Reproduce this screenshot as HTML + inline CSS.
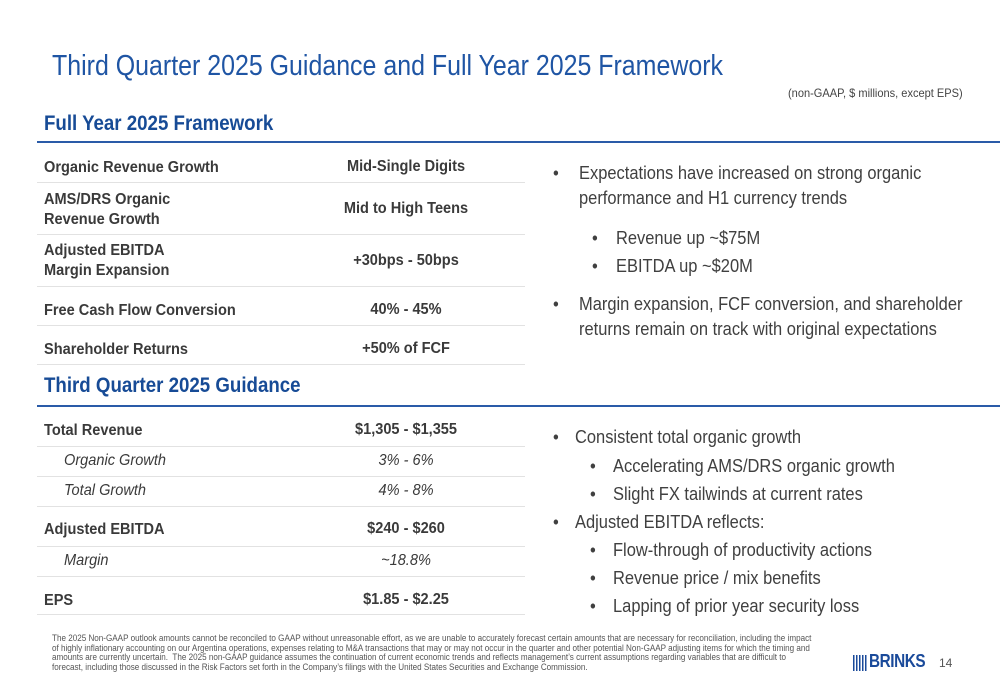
<!DOCTYPE html>
<html><head><meta charset="utf-8"><style>
body{margin:0;width:1000px;height:685px;background:#fff;position:relative;overflow:hidden;font-family:"Liberation Sans",sans-serif;color:#3a3a3a}
.a{position:absolute;white-space:nowrap;transform-origin:left top}
.title{left:52px;top:50px;font-size:29px;color:#1f55a4;transform:scaleX(0.86)}
.h{left:44px;font-size:21px;font-weight:bold;color:#174b96;transform:scaleX(0.89)}
.bl{position:absolute;left:37px;right:0;height:2px;background:#2a5ba8}
.sep{position:absolute;left:37px;width:488px;height:1px;background:#e2e2e2}
.l{left:44px;font-size:16px;font-weight:bold;line-height:20px;transform:scaleX(0.91)}
.v{left:310px;width:192px;text-align:center;font-size:16px;font-weight:bold;transform:scaleX(0.91);transform-origin:center top}
.i{left:64px;font-size:16px;font-style:italic;transform:scaleX(0.91)}
.vi{left:310px;width:192px;text-align:center;font-size:16px;font-style:italic;transform:scaleX(0.91);transform-origin:center top}
.b{font-size:18.5px;color:#404040;line-height:25px;transform:scaleX(0.89)}
.foot{left:52px;top:634px;font-size:8.8px;line-height:9.6px;color:#555;white-space:normal;width:826px;transform:scaleX(0.92)}
</style></head><body>
<div class="a title">Third Quarter 2025 Guidance and Full Year 2025 Framework</div>
<div class="a" style="left:788px;top:86px;font-size:12px;color:#444;transform:scaleX(0.92)">(non-GAAP, $ millions, except EPS)</div>

<div class="a h" style="top:112px">Full Year 2025 Framework</div>
<div class="bl" style="top:141px"></div>
<div class="a l" style="top:158px">Organic Revenue Growth</div>
<div class="a v" style="top:158px">Mid-Single Digits</div>
<div class="sep" style="top:182px"></div>
<div class="a l" style="top:190px">AMS/DRS Organic<br>Revenue Growth</div>
<div class="a v" style="top:200px">Mid to High Teens</div>
<div class="sep" style="top:234px"></div>
<div class="a l" style="top:241px">Adjusted EBITDA<br>Margin Expansion</div>
<div class="a v" style="top:252px">+30bps - 50bps</div>
<div class="sep" style="top:286px"></div>
<div class="a l" style="top:301px">Free Cash Flow Conversion</div>
<div class="a v" style="top:301px">40% - 45%</div>
<div class="sep" style="top:325px"></div>
<div class="a l" style="top:340px">Shareholder Returns</div>
<div class="a v" style="top:340px">+50% of FCF</div>
<div class="sep" style="top:364px"></div>

<div class="a h" style="top:374px">Third Quarter 2025 Guidance</div>
<div class="bl" style="top:405px"></div>
<div class="a l" style="top:421px">Total Revenue</div>
<div class="a v" style="top:421px">$1,305 - $1,355</div>
<div class="sep" style="top:446px"></div>
<div class="a i" style="top:452px">Organic Growth</div>
<div class="a vi" style="top:452px">3% - 6%</div>
<div class="sep" style="top:476px"></div>
<div class="a i" style="top:482px">Total Growth</div>
<div class="a vi" style="top:482px">4% - 8%</div>
<div class="sep" style="top:506px"></div>
<div class="a l" style="top:520px">Adjusted EBITDA</div>
<div class="a v" style="top:520px">$240 - $260</div>
<div class="sep" style="top:546px"></div>
<div class="a i" style="top:552px">Margin</div>
<div class="a vi" style="top:552px">~18.8%</div>
<div class="sep" style="top:576px"></div>
<div class="a l" style="top:591px">EPS</div>
<div class="a v" style="top:591px">$1.85 - $2.25</div>
<div class="sep" style="top:614px"></div>

<div class="a b" style="left:553px;top:160px">•</div>
<div class="a b" style="left:579px;top:160px">Expectations have increased on strong organic<br>performance and H1 currency trends</div>
<div class="a b" style="left:592px;top:225px">•</div>
<div class="a b" style="left:616px;top:225px">Revenue up ~$75M</div>
<div class="a b" style="left:592px;top:253px">•</div>
<div class="a b" style="left:616px;top:253px">EBITDA up ~$20M</div>
<div class="a b" style="left:553px;top:291px">•</div>
<div class="a b" style="left:579px;top:291px">Margin expansion, FCF conversion, and shareholder<br>returns remain on track with original expectations</div>

<div class="a b" style="left:553px;top:424px">•</div>
<div class="a b" style="left:575px;top:424px">Consistent total organic growth</div>
<div class="a b" style="left:590px;top:453px">•</div>
<div class="a b" style="left:613px;top:453px">Accelerating AMS/DRS organic growth</div>
<div class="a b" style="left:590px;top:481px">•</div>
<div class="a b" style="left:613px;top:481px">Slight FX tailwinds at current rates</div>
<div class="a b" style="left:553px;top:509px">•</div>
<div class="a b" style="left:575px;top:509px">Adjusted EBITDA reflects:</div>
<div class="a b" style="left:590px;top:537px">•</div>
<div class="a b" style="left:613px;top:537px">Flow-through of productivity actions</div>
<div class="a b" style="left:590px;top:565px">•</div>
<div class="a b" style="left:613px;top:565px">Revenue price / mix benefits</div>
<div class="a b" style="left:590px;top:593px">•</div>
<div class="a b" style="left:613px;top:593px">Lapping of prior year security loss</div>

<div class="a foot">The 2025 Non-GAAP outlook amounts cannot be reconciled to GAAP without unreasonable effort, as we are unable to accurately forecast certain amounts that are necessary for reconciliation, including the impact of highly inflationary accounting on our Argentina operations, expenses relating to M&amp;A transactions that may or may not occur in the quarter and other potential Non-GAAP adjusting items for which the timing and amounts are currently uncertain.&nbsp; The 2025 non-GAAP guidance assumes the continuation of current economic trends and reflects management’s current assumptions regarding variables that are difficult to forecast, including those discussed in the Risk Factors set forth in the Company’s filings with the United States Securities and Exchange Commission.</div>

<div class="a" style="left:853px;top:655px;width:15px;height:16px;background:repeating-linear-gradient(90deg,#1a4a9a 0 1.5px,#fff 1.5px 3px)"></div>
<div class="a" style="left:869px;top:651px;font-size:18px;font-weight:bold;color:#1a4a9a;letter-spacing:-0.5px;transform:scaleX(0.85)">BRINKS</div>
<div class="a" style="left:939px;top:656px;font-size:12px;color:#555">14</div>
</body></html>
